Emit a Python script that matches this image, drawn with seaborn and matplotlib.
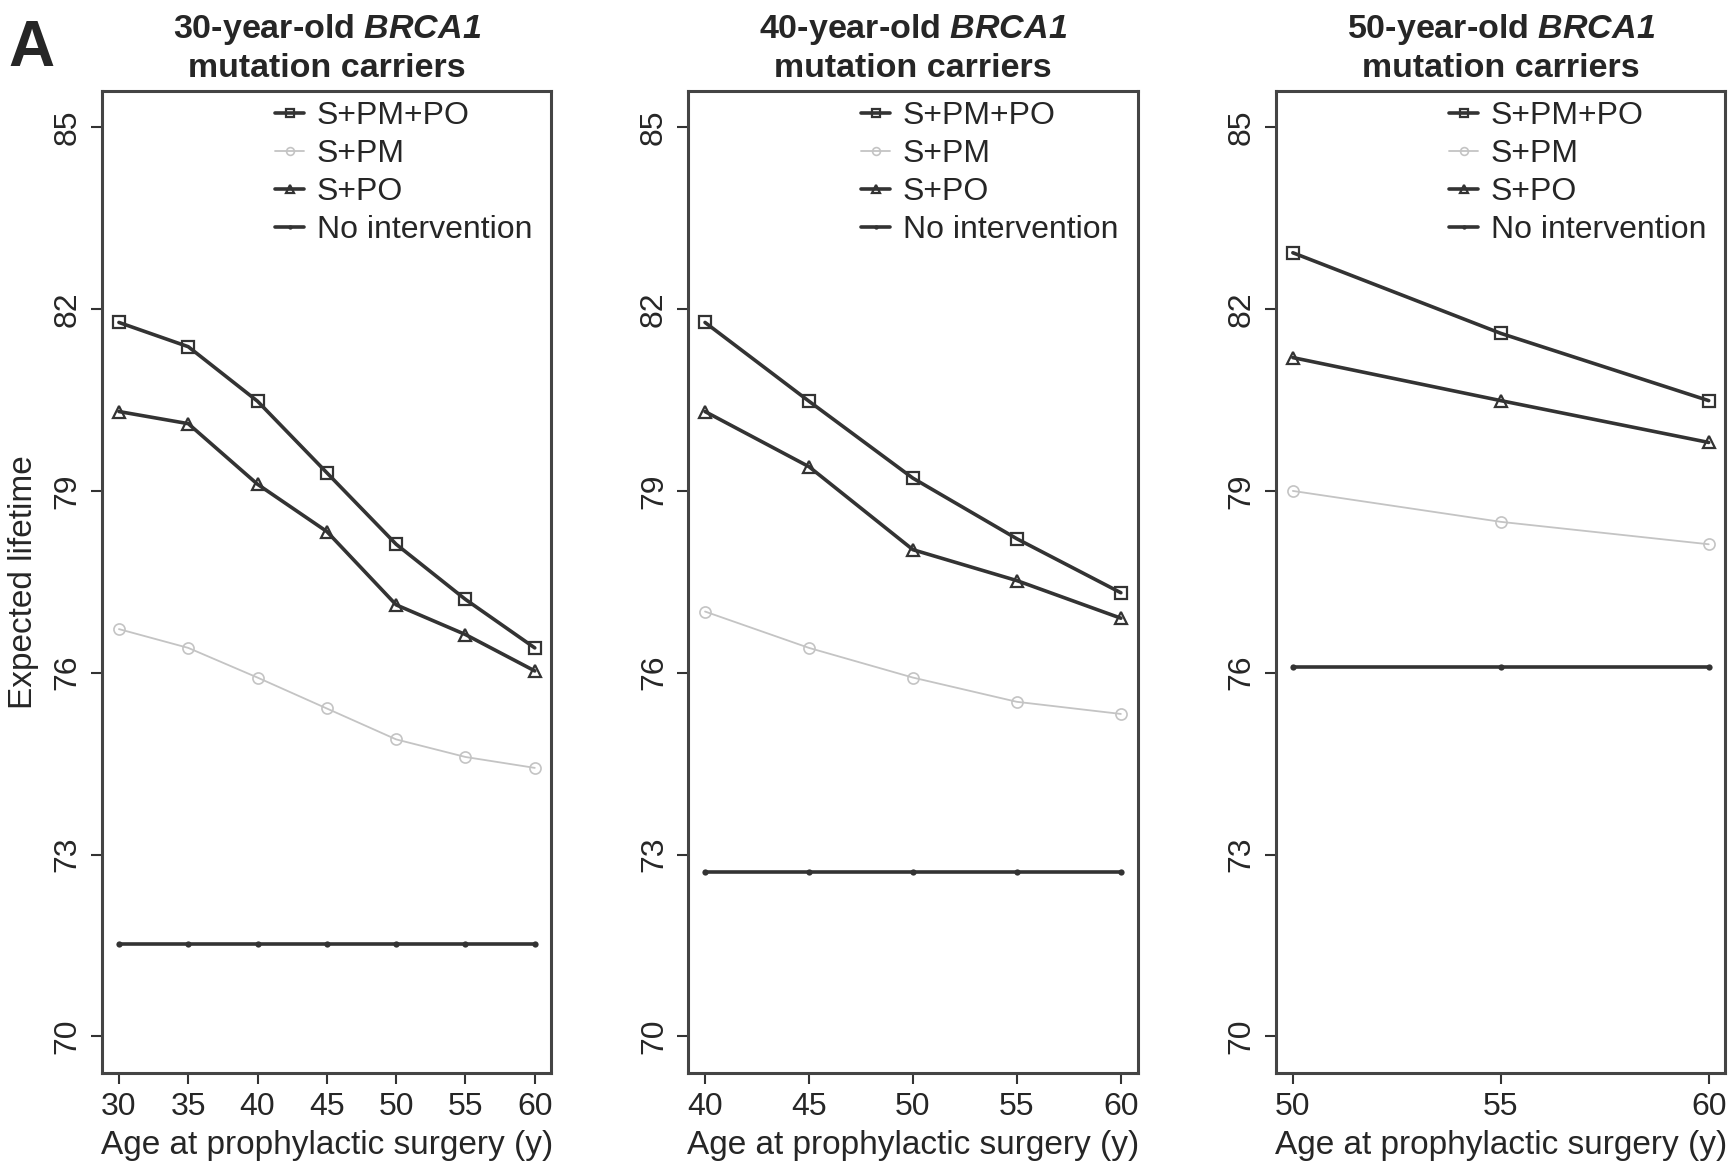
import numpy as np
import pandas as pd
import matplotlib
matplotlib.use("Agg")
import matplotlib.pyplot as plt
import seaborn as sns

# ages at surgery for each panel
ages_30 = [30, 35, 40, 45, 50, 55, 60]
ages_40 = [40, 45, 50, 55, 60]
ages_50 = [50, 55, 60]

# 30-year-old carriers
p30_spmpo = [81.78, 81.38, 80.48, 79.30, 78.12, 77.21, 76.41]
p30_spm = [76.72, 76.41, 75.92, 75.41, 74.90, 74.61, 74.43]
p30_spo = [80.31, 80.11, 79.11, 78.33, 77.12, 76.63, 76.03]
p30_none = [71.53, 71.53, 71.53, 71.53, 71.53, 71.53, 71.53]

# 40-year-old carriers
p40_spmpo = [81.78, 80.48, 79.21, 78.21, 77.32]
p40_spm = [77.01, 76.41, 75.92, 75.52, 75.32]
p40_spo = [80.31, 79.40, 78.03, 77.52, 76.90]
p40_none = [72.71, 72.71, 72.71, 72.71, 72.71]

# 50-year-old carriers
p50_spmpo = [82.93, 81.60, 80.49]
p50_spm = [79.00, 78.49, 78.12]
p50_spo = [81.20, 80.49, 79.80]
p50_none = [76.10, 76.10, 76.10]

titles = ["30-year-old $BRCA1$\nmutation carriers",
          "40-year-old $BRCA1$\nmutation carriers",
          "50-year-old $BRCA1$\nmutation carriers"]
series_names = ["S+PM+PO", "S+PM", "S+PO", "No intervention"]

sns.set_style("ticks")
plt.rcParams["font.family"] = ["Liberation Sans", "DejaVu Sans"]
# gene name in bold italic (only math text in the figure)
plt.rcParams["mathtext.fontset"] = "custom"
plt.rcParams["mathtext.it"] = "Liberation Sans:italic:bold"
plt.rcParams["mathtext.rm"] = "Liberation Sans:italic:bold"

dark = "#333333"
light = "#c4c4c4"
styles = {
    "S+PM+PO": dict(marker="s", color=dark, lw=2.6, ms=8, mfc="none", mew=1.6),
    "S+PM": dict(marker="o", color=light, lw=1.3, ms=8, mfc="none", mew=1.2),
    "S+PO": dict(marker="^", color=dark, lw=2.6, ms=9, mfc="none", mew=1.6),
    "No intervention": dict(marker="o", color=dark, lw=2.6, ms=4.5, mfc=dark, mew=0),
}

panels = [
    (ages_30, [p30_spmpo, p30_spm, p30_spo, p30_none]),
    (ages_40, [p40_spmpo, p40_spm, p40_spo, p40_none]),
    (ages_50, [p50_spmpo, p50_spm, p50_spo, p50_none]),
]

fig = plt.figure(figsize=(17.34, 11.66), dpi=100)
lefts = [0.059, 0.397, 0.736]
fs = 23

for i, (ages, vals) in enumerate(panels):
    ax = fig.add_axes([lefts[i], 0.080, 0.259, 0.842])
    for name, v in zip(series_names, vals):
        st = styles[name]
        df = pd.DataFrame({"age": ages, "life": v})
        sns.lineplot(data=df, x="age", y="life", ax=ax, label=name,
                     color=st["color"], linewidth=st["lw"], marker=st["marker"],
                     markersize=st["ms"], markerfacecolor=st["mfc"],
                     markeredgecolor=st["color"], markeredgewidth=st["mew"])
    span = ages[-1] - ages[0]
    ax.set_xlim(ages[0] - 0.04 * span, ages[-1] + 0.04 * span)
    ax.set_ylim(69.4, 85.6)
    ax.set_xticks(ages)
    ax.set_yticks([70, 73, 76, 79, 82, 85])
    ax.tick_params(axis="both", labelsize=fs, length=8, width=1.5, color=dark, pad=6)
    for lab in ax.get_yticklabels():
        lab.set_rotation(90)
        lab.set_va("center")
    for sp in ax.spines.values():
        sp.set_color("#444444")
        sp.set_linewidth(2.2)
    ax.set_xlabel("Age at prophylactic surgery (y)", fontsize=24, labelpad=6)
    ax.set_ylabel("Expected lifetime" if i == 0 else "", fontsize=24, labelpad=10)
    ax.set_title(titles[i], fontsize=24.5, fontweight="bold", pad=10, linespacing=1.25)
    ax.legend(loc="upper right", bbox_to_anchor=(1.0, 1.009), frameon=False,
              fontsize=fs, handlelength=0.9, handletextpad=0.4, labelspacing=0.25,
              borderaxespad=0.2, markerscale=0.7)

fig.text(0.005, 0.958, "A", fontsize=46, fontweight="bold", ha="left", va="center")

fig.savefig("out.png", dpi=100)
